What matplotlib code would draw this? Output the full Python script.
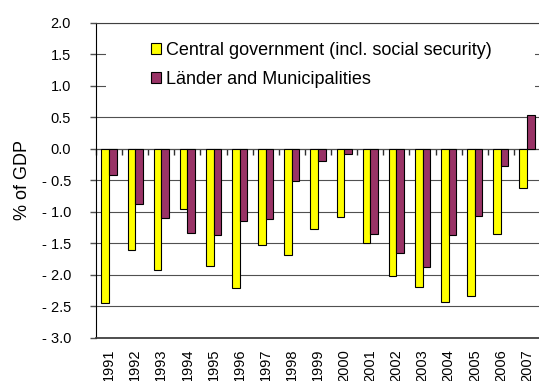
import numpy as np
import matplotlib
matplotlib.use("Agg")
import matplotlib.pyplot as plt
from matplotlib.patches import Patch, Rectangle
from matplotlib.ticker import FuncFormatter

# general government balances by level, % of GDP
years = [str(y) for y in range(1991, 2008)]
central = [-2.45, -1.61, -1.92, -0.96, -1.86, -2.21, -1.53, -1.68, -1.27,
           -1.08, -1.49, -2.02, -2.19, -2.43, -2.33, -1.35, -0.62]
laender = [-0.42, -0.88, -1.10, -1.33, -1.37, -1.15, -1.12, -0.51, -0.20,
           -0.09, -1.36, -1.66, -1.87, -1.37, -1.07, -0.27, 0.53]
series_names = ["Central government (incl. social security)",
                "Länder and Municipalities"]

yellow = "#ffff00"
purple = "#993366"

plt.rcParams["font.family"] = ["Liberation Sans", "DejaVu Sans"]

fig = plt.figure(figsize=(5.39, 3.81), dpi=100)
ax = fig.add_axes([0.178, 0.1136, 0.824, 0.8264])

x = np.arange(len(years))
w = 0.29
ax.bar(x - w / 2, central, w, color=yellow, edgecolor="black", linewidth=0.8, zorder=2)
ax.bar(x + w / 2, laender, w, color=purple, edgecolor="black", linewidth=0.8, zorder=2)

ax.set_xlim(-0.5, len(years) - 0.5)
ax.set_ylim(-3.0, 2.0)
ax.set_yticks(np.arange(-3.0, 2.01, 0.5))
ax.yaxis.set_major_formatter(FuncFormatter(
    lambda v, p: f"- {abs(v):.1f}" if v < -1e-9 else f"{abs(v):.1f}"))
ax.grid(axis="y", color="#505050", linewidth=0.8)
ax.set_axisbelow(True)

# white area behind the legend hides the upper gridlines
ax.add_patch(Rectangle((0.0225, 0.72), 0.966, 0.27, transform=ax.transAxes,
                       facecolor="white", edgecolor="none", zorder=0.8))

ax.set_xticks(x)
ax.set_xticklabels(years, rotation=90, fontsize=10.5)
ax.tick_params(axis="x", length=0, pad=8)
ax.tick_params(axis="y", length=4, width=1, pad=14, labelsize=10.5, color="#505050")

ax.spines["right"].set_visible(False)
ax.spines["left"].set_color("black")
ax.spines["top"].set_color("#404040")
ax.spines["bottom"].set_color("#404040")
ax.spines["bottom"].set_linewidth(1.3)

# zero line with the category tick marks
zero = ax.secondary_xaxis(0.6)
zero.set_xticks(np.arange(len(years) + 1) - 0.5)
zero.set_xticklabels([])
zero.tick_params(direction="in", length=4, width=1, color="#303030")
zero.spines["top"].set_color("black")
zero.spines["bottom"].set_color("black")

ax.set_ylabel("% of GDP", fontsize=13)
ax.yaxis.set_label_coords(-0.146, 0.5)

handles = [Patch(facecolor=yellow, edgecolor="black", linewidth=0.8),
           Patch(facecolor=purple, edgecolor="black", linewidth=0.8)]
ax.legend(handles, series_names, loc="upper left", bbox_to_anchor=(0.124, 0.939),
          frameon=False, fontsize=13, handlelength=0.55, handleheight=0.55,
          handletextpad=0.28, labelspacing=0.66, borderpad=0, borderaxespad=0)

fig.savefig("out.png", dpi=100)
